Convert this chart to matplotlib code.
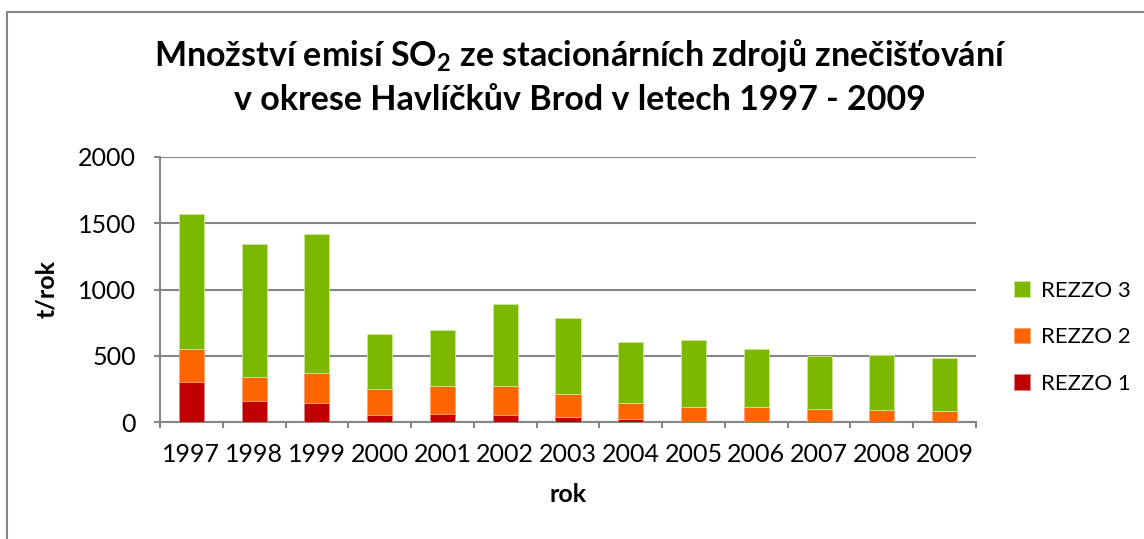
#!/usr/bin/env python3

import numpy as np
import matplotlib.pyplot as plt
from matplotlib.patches import Rectangle

roky = ['1997', '1998', '1999', '2000', '2001', '2002', '2003',
        '2004', '2005', '2006', '2007', '2008', '2009']
rezzo1 = [303, 159, 144, 53, 61, 53, 36, 20, 0, 0, 0, 0, 0]
rezzo2 = [246, 178, 223, 193, 207, 215, 176, 124, 114, 114, 99, 94, 81]
rezzo3 = [1018, 1008, 1053, 421, 429, 626, 576, 460, 505, 435, 401, 412, 404]

plt.rcParams['font.family'] = ['Lato', 'DejaVu Sans']
plt.rcParams['mathtext.fontset'] = 'custom'
plt.rcParams['mathtext.rm'] = 'Lato'
plt.rcParams['mathtext.bf'] = 'Lato:bold'

sivá = '#868686'
fig = plt.figure(figsize=(11.44, 5.39), dpi=100)
ax = fig.add_axes([160 / 1144, 1 - 422 / 539, 816 / 1144, 265 / 539])

# ramecek grafu
fig.patches.append(Rectangle((7 / 1144, -0.1), 1.2, 1 - 12 / 539 + 0.1,
                             transform=fig.transFigure, fill=False,
                             edgecolor=sivá, linewidth=1.5))

x = np.arange(len(roky))
r1 = np.array(rezzo1)
r2 = np.array(rezzo2)
r3 = np.array(rezzo3)
sirka = 0.4
b1 = ax.bar(x, r1, sirka, color='#C00000', edgecolor='#E08080', linewidth=0.6,
            label='REZZO 1', zorder=3)
b2 = ax.bar(x, r2, sirka, bottom=r1, color='#FF6600', edgecolor='#FFA070',
            linewidth=0.6, label='REZZO 2', zorder=3)
b3 = ax.bar(x, r3, sirka, bottom=r1 + r2, color='#7DB800', edgecolor='#C8E890',
            linewidth=0.6, label='REZZO 3', zorder=3)

ax.set_xlim(-0.5, len(roky) - 0.5)
ax.set_ylim(0, 2000)
ax.set_yticks([0, 500, 1000, 1500, 2000])
ax.yaxis.grid(True, color=sivá, linewidth=1.5, zorder=0)
ax.set_axisbelow(True)
for s in ['top', 'right']:
    ax.spines[s].set_visible(False)
for s in ['left', 'bottom']:
    ax.spines[s].set_color(sivá)
    ax.spines[s].set_linewidth(1.5)

ax.set_xticks(x)
ax.set_xticklabels(roky)
ax.set_xticks(np.arange(len(roky) + 1) - 0.5, minor=True)
ax.tick_params(axis='x', which='major', length=0, labelsize=18, pad=15)
ax.tick_params(axis='x', which='minor', length=4.3, width=1.5, color=sivá)
ax.tick_params(axis='y', length=4.3, width=1.5, color=sivá, labelsize=18, pad=13)

ax.set_xlabel('rok', fontsize=18, fontweight='bold', labelpad=12)
ax.set_ylabel('t/rok', fontsize=18, fontweight='bold', labelpad=14)

fig.text(580 / 1144, 1 - 55 / 539,
         r'Množství emisí SO$_\mathbf{2}$ ze stacionárních zdrojů znečišťování',
         ha='center', va='center', fontsize=24.5, fontweight='bold')
fig.text(580 / 1144, 1 - 100 / 539,
         'v okrese Havlíčkův Brod v letech 1997 - 2009',
         ha='center', va='center', fontsize=24.5, fontweight='bold')

ax.legend(handles=[b3, b2, b1], loc='center left', bbox_to_anchor=(1.022, 0.32),
          frameon=False, fontsize=16, handlelength=0.7, handleheight=0.7,
          handletextpad=0.5, labelspacing=1.2)

plt.savefig('out.png', dpi=100)
